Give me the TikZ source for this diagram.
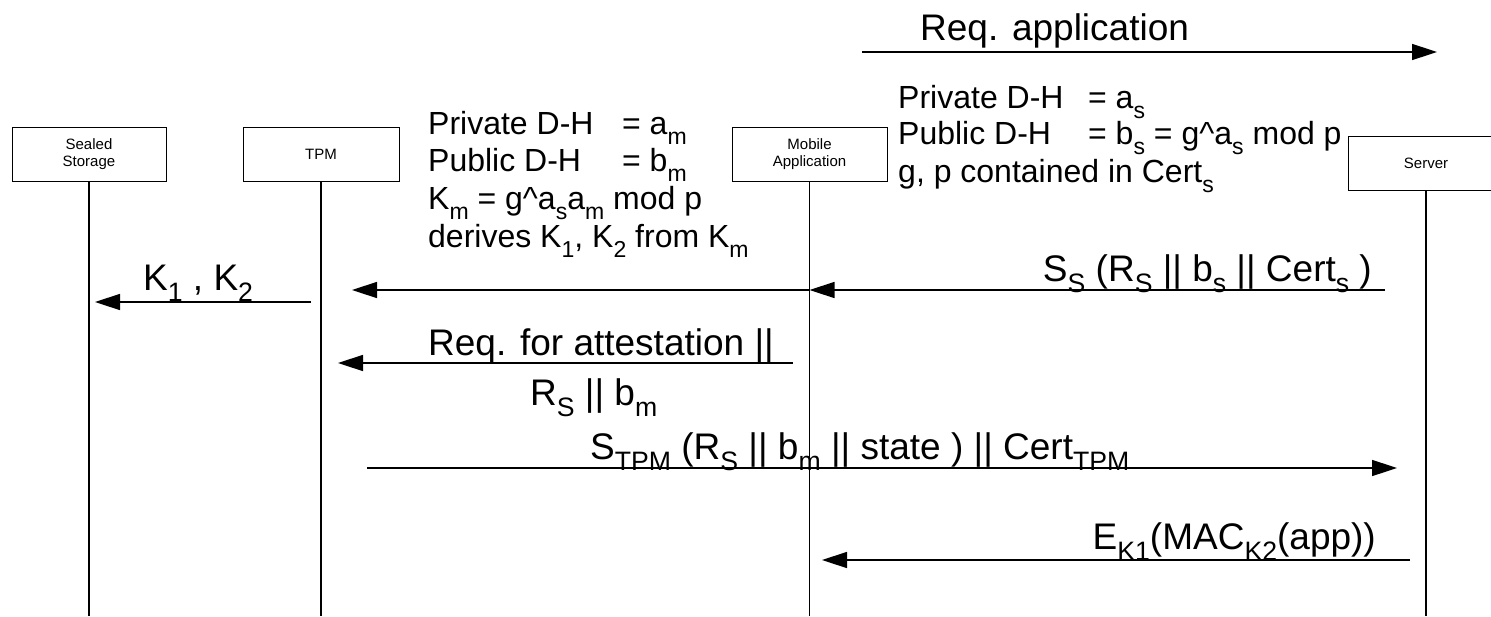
\documentclass[tikz,border=0pt]{standalone}
\usepackage{fontspec}
\usepackage{graphicx}
\setmainfont{Liberation Sans}
\usetikzlibrary{arrows.meta}
\newcommand\dn[1]{\raisebox{-0.32em}{\scalebox{0.72}{#1}}}
\begin{document}
\begin{tikzpicture}[x=1pt,y=-1pt,
  actor/.style={draw, line width=1pt, minimum height=54pt, inner sep=0pt,
    align=center, font=\fontsize{15}{17}\selectfont},
  life/.style={line width=1.5pt},
  msg/.style={line width=1.5pt, -{Triangle[length=25pt,width=16pt]}},
  lbl/.style={inner sep=0pt, font=\fontsize{37}{40}\selectfont},
  note/.style={inner sep=0pt, anchor=base west, font=\fontsize{32}{36}\selectfont}]
\useasboundingbox (0,0) rectangle (1491,616);
% actors
\node[actor, minimum width=154pt] (ss) at (89,154) {Sealed\\Storage};
\node[actor, minimum width=156pt] (tpm) at (321,154) {TPM};
\node[actor, minimum width=155pt] (mob) at (809.5,154) {Mobile\\Application};
\node[actor, minimum width=156pt] (srv) at (1426,163) {Server};
% lifelines
\coordinate (ssb) at (89,616);
\coordinate (tpmb) at (321,616);
\coordinate (mobb) at (809.5,616);
\coordinate (srvb) at (1426,616);
\draw[life] (ss.south) -- (ssb);
\draw[life] (tpm.south) -- (tpmb);
\draw[life] (mob.south) -- (mobb);
\draw[life] (srv.south) -- (srvb);
% notes
\node[note] (nl1) at (428,134) {\makebox[194pt][l]{Private D-H}= a\dn{m}};
\node[note] (nl2) at (428,171) {\makebox[194pt][l]{Public D-H}= b\dn{m}};
\node[note] (nl3) at (428,209) {K\dn{m} = g\textasciicircum a\dn{s}a\dn{m} mod p};
\node[note] (nl4) at (428,247) {derives K\dn{1}, K\dn{2} from K\dn{m}};
\node[note] (nr1) at (898,108) {\makebox[190pt][l]{Private D-H}= a\dn{s}};
\node[note] (nr2) at (898,144) {\makebox[190pt][l]{Public D-H}= b\dn{s} = g\textasciicircum a\dn{s} mod p};
\node[note] (nr3) at (898,182) {g, p contained in Cert\dn{s}};
% messages
\coordinate (m1s) at (862,52);  \coordinate (m1e) at (1437,52);
\draw[msg] (m1s) -- (m1e);
\node[lbl, anchor=base west] (l1) at (920,40) {Req. application};

\coordinate (m2s) at (1385,290); \coordinate (m2e) at (mob.south |- m2s);
\draw[msg] (m2s) -- (m2e);
\node[lbl, anchor=base east] (l2) at (1372,281) {S\dn{S} (R\dn{S} || b\dn{s} || Cert\dn{s} )};

\coordinate (m3s) at (mob.south |- m2s); \coordinate (m3e) at (352,290);
\draw[msg] (m3s) -- (m3e);

\coordinate (m4s) at (311,302); \coordinate (m4e) at (95,302);
\draw[msg] (m4s) -- (m4e);
\node[lbl, anchor=base west] (l4) at (143,290) {K\dn{1} , K\dn{2}};

\coordinate (m5s) at (793,363); \coordinate (m5e) at (338,363);
\draw[msg] (m5s) -- (m5e);
\node[lbl, anchor=base west] (l5a) at (428,355) {Req. for attestation ||};
\node[lbl, anchor=base west] (l5b) at (530,405) {R\dn{S} || b\dn{m}};

\coordinate (m6s) at (367,468); \coordinate (m6e) at (1397,468);
\draw[msg] (m6s) -- (m6e);
\node[lbl, anchor=base west] (l6) at (590,459) {S\dn{TPM} (R\dn{S} || b\dn{m} || state ) || Cert\dn{TPM}};

\coordinate (m7s) at (1410,560); \coordinate (m7e) at (822,560);
\draw[msg] (m7s) -- (m7e);
\node[lbl, anchor=base east] (l7) at (1376,549) {E\dn{K1}(MAC\dn{K2}(app))};
\end{tikzpicture}
\end{document}
